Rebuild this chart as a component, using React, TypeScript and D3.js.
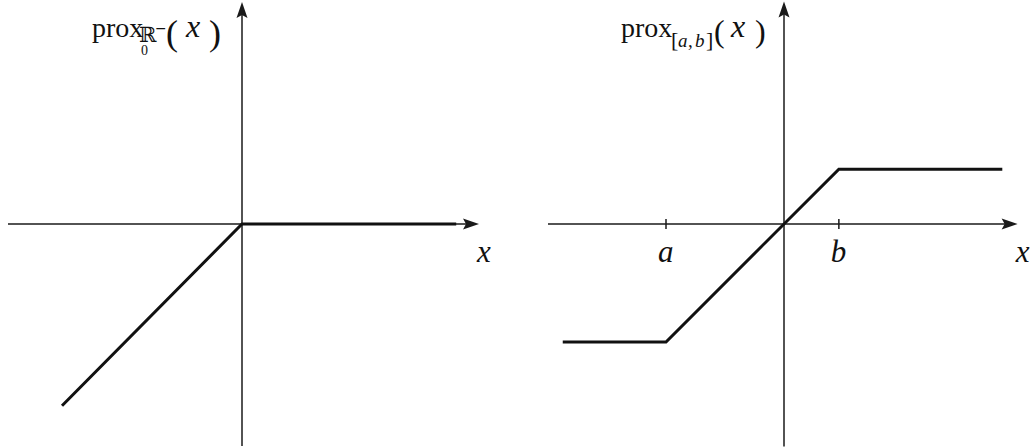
import React from "react";
import * as d3 from "d3";

// Piecewise-linear proximal maps drawn as polylines in data units
const leftCurve: [number, number][] = [[-3, -3.03], [0, 0], [3.57, 0]];
const a = -2;
const b = 0.93;
const rightCurve: [number, number][] = [[-3.75, a], [a, a], [b, b], [3.7, b]];
const rightTicks = [{ v: a, label: "a" }, { v: b, label: "b" }];

const W = 1035;
const H = 448;
const unit = 60;
const unitR = 59;

const serif = "Liberation Serif";

function Arrow({ x, y, dir }: { x: number; y: number; dir: "up" | "right" }) {
  const L = 16, hw = 5.5;
  const pts = dir === "right"
    ? [[x, y], [x - L, y - hw], [x - L + 3, y], [x - L, y + hw]]
    : [[x, y], [x - hw, y + L], [x, y + L - 3], [x + hw, y + L]];
  return <polygon points={pts.map((p) => p.join(",")).join(" ")} fill="#1a1a1a" />;
}

// A run of glyphs placed at absolute positions inside one <text>
type Run = { t: string; x: number; y: number; s: number; i?: boolean; f?: string };

function Formula({ runs }: { runs: Run[] }) {
  return (
    <text style={{ fontFamily: serif }} fill="#111">
      {runs.map((r, k) => (
        <tspan
          key={k}
          x={r.x}
          y={r.y}
          style={{ fontSize: r.s, fontStyle: r.i ? "italic" : "normal", fontFamily: r.f || serif }}
        >
          {r.t}
        </tspan>
      ))}
    </text>
  );
}

function Label({ x, y, children }: any) {
  return (
    <text x={x} y={y} style={{ fontFamily: serif, fontSize: 31, fontStyle: "italic" }} fill="#111">
      {children}
    </text>
  );
}

function Panel({ ox, oy, u, xMin, xMax, yMin, yMax, curve, ticks, children }: any) {
  const x = d3.scaleLinear().domain([0, 1]).range([ox, ox + u]);
  const y = d3.scaleLinear().domain([0, 1]).range([oy, oy - u]);
  const line = d3.line<[number, number]>().x((d) => x(d[0])).y((d) => y(d[1]));
  return (
    <g>
      <line x1={x(xMin)} x2={x(xMax) - 6} y1={y(0)} y2={y(0)} stroke="#1a1a1a" strokeWidth={1.5} />
      <Arrow x={x(xMax)} y={y(0)} dir="right" />
      <line x1={x(0)} x2={x(0)} y1={y(yMin)} y2={y(yMax) + 6} stroke="#1a1a1a" strokeWidth={1.5} />
      <Arrow x={x(0)} y={y(yMax)} dir="up" />
      {(ticks || []).map((t: any) => (
        <g key={t.label}>
          <line x1={x(t.v)} x2={x(t.v)} y1={y(0) - 5} y2={y(0) + 5} stroke="#1a1a1a" strokeWidth={1.5} />
          <Label x={x(t.v) - 8} y={y(0) + 38}>{t.label}</Label>
        </g>
      ))}
      <path d={line(curve) || ""} fill="none" stroke="#111" strokeWidth={3} strokeLinejoin="miter" />
      <Label x={x(xMax) - 2} y={y(0) + 38}>x</Label>
      {children}
    </g>
  );
}

const leftTitle: Run[] = [
  { t: "prox", x: 92, y: 37, s: 28 },
  { t: "ℝ", x: 139, y: 42, s: 21, f: "DejaVu Serif" },
  { t: "−", x: 155, y: 33, s: 14, f: "DejaVu Serif" },
  { t: "0", x: 141, y: 55, s: 14 },
  { t: "(", x: 166, y: 45, s: 36 },
  { t: "x", x: 186, y: 37, s: 32, i: true },
  { t: ")", x: 209, y: 45, s: 36 },
];

const rightTitle: Run[] = [
  { t: "prox", x: 621, y: 37, s: 28 },
  { t: "[", x: 671, y: 47, s: 22 },
  { t: "a", x: 678, y: 47, s: 19, i: true },
  { t: ",", x: 688, y: 47, s: 19 },
  { t: "b", x: 695, y: 47, s: 19, i: true },
  { t: "]", x: 706, y: 47, s: 22 },
  { t: "(", x: 714, y: 42, s: 32 },
  { t: "x", x: 731, y: 37, s: 32, i: true },
  { t: ")", x: 755, y: 42, s: 32 },
];

export default function App() {
  return (
    <svg width={W} height={H} style={{ position: "absolute", left: 0, top: 0, background: "#fff" }}>
      <Panel ox={242} oy={224} u={unit} xMin={-3.9} xMax={3.95} yMin={-3.7} yMax={3.7} curve={leftCurve}>
        <Formula runs={leftTitle} />
      </Panel>
      <Panel ox={784} oy={224} u={unitR} xMin={-4.0} xMax={3.96} yMin={-3.77} yMax={3.77} curve={rightCurve} ticks={rightTicks}>
        <Formula runs={rightTitle} />
      </Panel>
    </svg>
  );
}
